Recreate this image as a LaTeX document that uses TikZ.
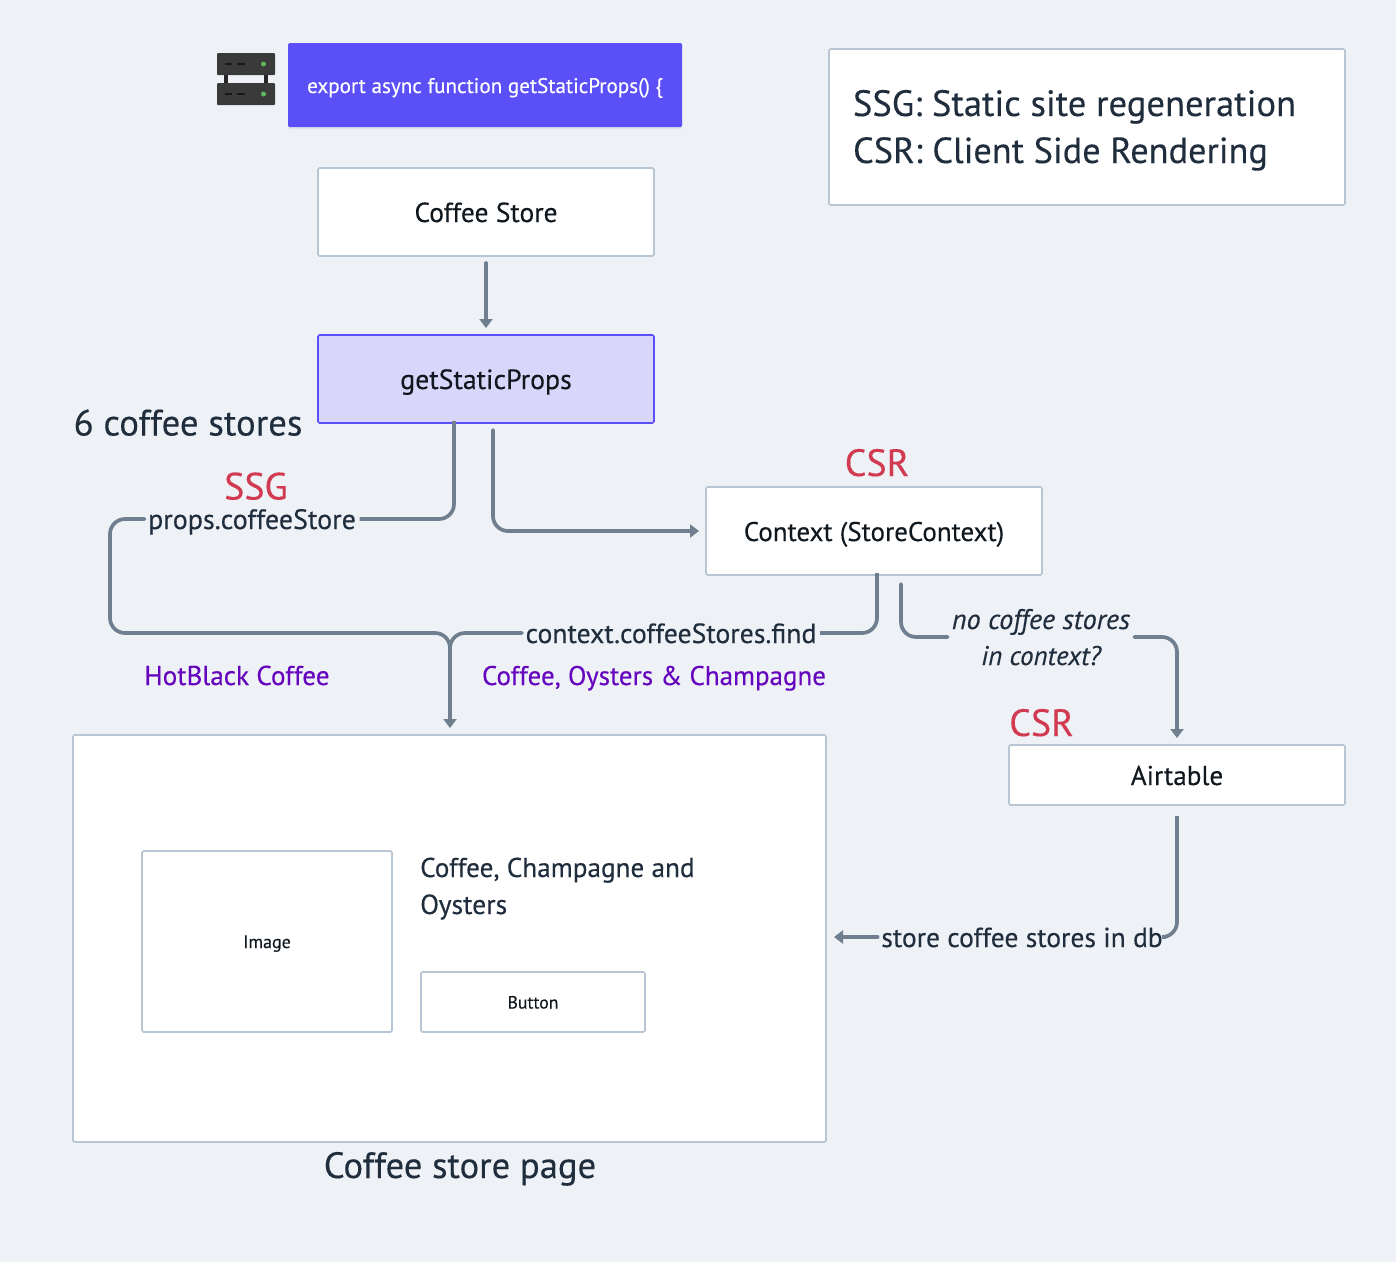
\documentclass[tikz,border=0pt]{standalone}
\usepackage{fontspec}
\setmainfont{PT Sans}[FakeBold=0.25,ItalicFeatures={FakeBold=0.25}]
\usetikzlibrary{arrows.meta,calc,shadows}
\definecolor{bgc}{HTML}{EEF1F6}
\definecolor{edgec}{HTML}{B8C5D2}
\definecolor{linec}{HTML}{6F7F8F}
\definecolor{inkc}{HTML}{1F2D3D}
\definecolor{blackc}{HTML}{10181F}
\definecolor{redc}{HTML}{D13A50}
\definecolor{purplec}{HTML}{6505BE}
\definecolor{bluec}{HTML}{5B4FF7}
\definecolor{lilacc}{HTML}{D9D6FB}
\definecolor{lilacedge}{HTML}{5B4FF7}
\definecolor{srvc}{HTML}{3A3A3A}
\definecolor{ledc}{HTML}{5CB85C}
\newcommand{\fs}[1]{\fontsize{#1}{#1}\selectfont}
\tikzset{
  x=1pt,y=-1pt,
  box/.style={draw=edgec,line width=1.6pt,fill=white,rounded corners=1.5pt,outer sep=0pt,inner sep=0pt,text=blackc,align=center},
  boxtext/.style={text height=25pt,text depth=5pt},
  lbl/.style={inner sep=3.5pt,text=inkc,text height=25pt,text depth=5pt},
  free/.style={inner sep=0pt,anchor=base,text=inkc},
  wire/.style={draw=linec,line width=3.7pt,rounded corners=15pt,line cap=round},
  tip/.style={-{Triangle[length=9pt,width=13pt]}},
}
\begin{document}
\begin{tikzpicture}
\useasboundingbox (0,0) rectangle (1396,1262);
\fill[bgc] (0,0) rectangle (1396,1262);

% server icon
\fill[black!85] (224,74) rectangle (228,84);
\fill[black!85] (264,74) rectangle (268,84);
\fill[srvc,rounded corners=1pt] (217,53) rectangle (275,75);
\fill[srvc,rounded corners=1pt] (217,83) rectangle (275,105);
\foreach \yy in {64,94}{
  \draw[black!90,line width=2pt] (225,\yy) -- (232,\yy);
  \draw[black!90,line width=2pt] (237,\yy) -- (245,\yy);
  \fill[ledc] (263.5,\yy) circle (2.5);
}

\node[box,draw=none,fill=bluec,text=white,minimum width=394pt,minimum height=84pt,font=\fs{21.1},text height=21pt,text depth=5pt,
  drop shadow={opacity=.12,shadow xshift=0pt,shadow yshift=-2pt}] (fn) at (485,85) {export async function getStaticProps() \{};
\node[box,boxtext,font=\fs{27.5},minimum width=336pt,minimum height=88pt] (cs) at (486,212) {Coffee Store};
\node[box,boxtext,font=\fs{27.8},draw=lilacedge,fill=lilacc,minimum width=336pt,minimum height=88pt] (gsp) at (486,379) {getStaticProps};
\node[box,boxtext,font=\fs{27},minimum width=336pt,minimum height=88pt] (ctx) at (874,531) {Context (StoreContext)};
\node[box,boxtext,font=\fs{27.2},minimum width=336pt,minimum height=60pt] (air) at (1177,775) {Airtable};
\node[box,minimum width=516pt,minimum height=156pt] (legend) at (1087,127) {};
\node[free,font=\fs{36.6}] (l1) at (1074.5,116) {SSG: Static site regeneration};
\node[free,font=\fs{36.3}] (l2) at (1060.5,163) {CSR: Client Side Rendering};
\node[box,minimum width=753pt,minimum height=407pt] (page) at (449.5,938.5) {};
\node[box,font=\fs{18},text height=17pt,text depth=4pt,minimum width=250pt,minimum height=181pt] (img) at (267,941.5) {Image};
\node[box,font=\fs{17.7},text height=17pt,text depth=4pt,minimum width=224pt,minimum height=60pt] (btn) at (533,1002) {Button};
\node[free,anchor=base west,font=\fs{27.2}] (title1) at (420,877) {Coffee, Champagne and};
\node[free,anchor=base west,font=\fs{27.6}] (title2) at (420,914) {Oysters};
\node[free,font=\fs{36.6}] (pagelbl) at (460,1178) {Coffee store page};
\node[free,font=\fs{36.8}] (six) at (188,435.5) {6 coffee stores};
\node[free,font=\fs{38},text=redc] (ssg) at (256,499.5) {SSG};
\node[free,font=\fs{38},text=redc] (csr1) at (877,476) {CSR};
\node[free,font=\fs{38},text=redc] (csr2) at (1041.5,736) {CSR};
\node[free,font=\fs{27.2},text=purplec] (hb) at (237,685) {HotBlack Coffee};
\node[free,font=\fs{27},text=purplec] (coc) at (654,685) {Coffee, Oysters \& Champagne};

\node[lbl,font=\fs{28}] (props) at (252,519) {props.coffeeStore};
\node[lbl,font=\fs{27.7}] (find) at (671,633) {context.coffeeStores.find};
\node[minimum width=186pt,minimum height=40pt,inner sep=0pt] (noctx) at (1041,637) {};
\node[free,font=\fs{28.2}\itshape] (nc1) at (1041,629) {no coffee stores};
\node[free,font=\fs{27}\itshape] (nc2) at (1041,665) {in context?};
\node[lbl,font=\fs{27.5}] (db) at (1022,937) {store coffee stores in db};

\coordinate (merge) at (450,633);
\coordinate (drop) at ($(page.north)+(0.5,-7)$);
\draw[wire,tip] ($(cs.south)+(0,7)$) -- ($(gsp.north)+(0,-7)$);
\draw[wire,line cap=butt] ($(gsp.south)+(-32,-2)$) |- (props.east);
\draw[wire,tip] (props.west) -| (110,633) -- (merge) -- (drop);
\draw[wire] (find.west) -- (merge) -- ($(merge)+(0,15)$);
\draw[wire,line cap=butt] ($(ctx.south)+(3,-2)$) |- (find.east);
\draw[wire,tip] ($(gsp.south)+(7,7)$) |- ($(ctx.west)+(-7,0)$);
\draw[wire] ($(ctx.south)+(27,9)$) |- (noctx.west);
\draw[wire,tip] (noctx.east) -| ($(air.north)+(0,-7)$);
\draw[wire,line cap=butt] ($(air.south)+(0,11)$) |- (db.east);
\draw[wire,tip] (db.west) -- ($(page.east)+(8,-1.5)$);
\end{tikzpicture}
\end{document}
